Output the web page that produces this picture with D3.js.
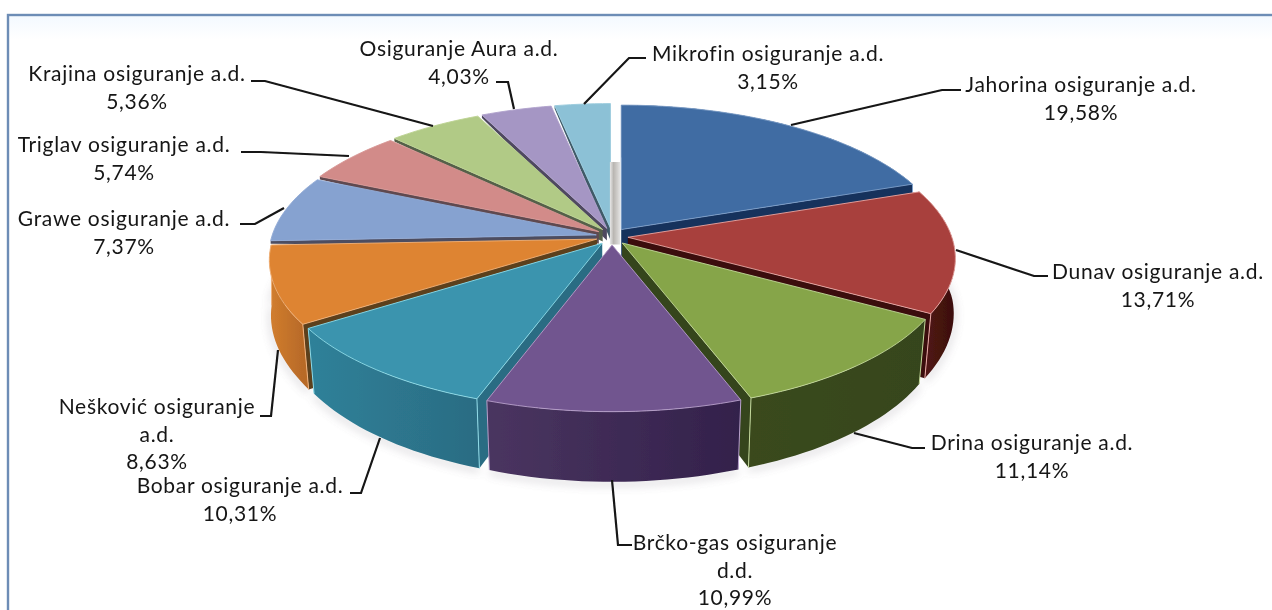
<!DOCTYPE html>
<html><head><meta charset="utf-8">
<script src="https://cdn.jsdelivr.net/npm/d3@7/dist/d3.min.js"></script>
<style>html,body{margin:0;padding:0;background:#fff;overflow:hidden}svg{display:block}</style>
</head><body><svg id="c" width="1272" height="610"></svg>
<script>
const companies = ["Jahorina osiguranje a.d.","Dunav osiguranje a.d.","Drina osiguranje a.d.","Brčko-gas osiguranje d.d.","Bobar osiguranje a.d.","Nešković osiguranje a.d.","Grawe osiguranje a.d.","Triglav osiguranje a.d.","Krajina osiguranje a.d.","Osiguranje Aura a.d.","Mikrofin osiguranje a.d."];
const shares = [19.58,13.71,11.14,10.99,10.31,8.63,7.37,5.74,5.36,4.03,3.15];
const shareLabels = ["19,58%","13,71%","11,14%","10,99%","10,31%","8,63%","7,37%","5,74%","5,36%","4,03%","3,15%"];
const topColors = ["#3f6ca3","#a83f3c","#86a548","#71548f","#3a94ae","#de8430","#86a2d0","#d28b89","#b1ca86","#a596c4","#8cc1d6"];
const wallLeft = ["#16305c","#561814","#3a4a1f","#4a3560","#2f8199","#d27e2e","#5f7ba6","#a86a68","#8aa165","#7f7099","#6d9aad"];
const wallRight = ["#16305c","#3a0f0e","#36451d","#33214b","#2b6c83","#b86a28","#5f7ba6","#a86a68","#8aa165","#7f7099","#6d9aad"];
const radialWalls = ["#16305c","#3a0f0e","#36451d","#33214b","#2b6c83","#5c3f1c","#4d4d60","#5e4a50","#55604a","#4f4a60","#3f5a68"];
const rimColors = ["#7f9fc8","#e9a9a6","#c3d89a","#b9a2cc","#8fdbe8","#f0b27c","#93abd6","#d79694","#bcd292","#b0a2cc","#9acbdd"];
const labelLines = [["Jahorina osiguranje a.d."],["Dunav osiguranje a.d."],["Drina osiguranje a.d."],["Brčko-gas osiguranje","d.d."],["Bobar osiguranje a.d."],["Nešković osiguranje","a.d."],["Grawe osiguranje a.d."],["Triglav osiguranje a.d."],["Krajina osiguranje a.d."],["Osiguranje Aura a.d."],["Mikrofin osiguranje a.d."]];

// layout
const cx=612, cy=236.5, rx=324, ry=142.5, persp=0.145, dz=60, exX=16, exY=8.5, lineGap=27.5;
const labelCenter=[[1081,92],[1158,279],[1032,450],[735,550],[240,493],[157,414],[124,226],[124,152],[137,81],[459,56],[768,61]];
const leaders=[[[791,125],[942,90],[961,90]],[[956,250],[1034,276],[1048,276]],[[854,433],[912,448],[925,448]],[[612,480],[618,545],[632,545]],[[380,438],[361,493],[350,493]],[[278,350],[271,416],[260,416]],[[284,208],[255,224],[240,224]],[[349,156],[261,152],[241,152]],[[433,126],[265,81],[251,81]],[[514,109],[508,82],[496,82]],[[584,104],[629,58],[646,58]]];

const svg=d3.select("#c");
const defs=svg.append("defs");
const bg=defs.append("linearGradient").attr("id","bg").attr("x1",0).attr("x2",0).attr("y1",0).attr("y2",1);
[[0,"#f3f9ff"],[0.04,"#ffffff"],[0.96,"#ffffff"],[0.965,"#fdfef9"],[1,"#fdfef9"]].forEach(s=>bg.append("stop").attr("offset",s[0]).attr("stop-color",s[1]));
defs.append("filter").attr("id","soft").append("feGaussianBlur").attr("stdDeviation",0.55);
defs.append("filter").attr("id","softT").append("feGaussianBlur").attr("stdDeviation",0.45);
defs.append("filter").attr("id","shadow").append("feGaussianBlur").attr("stdDeviation",4);
const grey=defs.append("linearGradient").attr("id","grey").attr("x1",0).attr("x2",1);
[[0,"#e8e8e8"],[0.35,"#b9b6b2"],[0.7,"#cfcdca"],[1,"#e4e4e4"]].forEach(s=>grey.append("stop").attr("offset",s[0]).attr("stop-color",s[1]));

svg.append("rect").attr("x",8).attr("y",15).attr("width",1290).attr("height",620).attr("fill","url(#bg)").attr("stroke","#6d8db6").attr("stroke-width",2.4);

const unitX=d3.scaleLinear().domain([-1,1]).range([-rx,rx]);
const unitY=d3.scaleLinear().domain([-1,1]).range([-ry,ry]);
const arcs=d3.pie().sort(null).value(d=>d).startAngle(0).endAngle(2*Math.PI)(shares);
const line=d3.line().x(d=>d[0]).y(d=>d[1]);

function project(t,r,off,low){
  const u=Math.sin(t)*r, v=-Math.cos(t)*r, w=1/(1-persp*v);
  let x=unitX(u)*w, y=unitY(v)*w;
  if(low){ x*=1-0.02*Math.min(1,Math.max(0,v)*2); y+=dz*w; }
  return [cx+off[0]+x, cy+off[1]+y];
}
function rimPts(a,off,low){
  const n=Math.max(4,Math.ceil((a.endAngle-a.startAngle)/0.03));
  return d3.range(n+1).map(i=>project(a.startAngle+(a.endAngle-a.startAngle)*i/n,1,off,low));
}
const slices=arcs.map((a,i)=>{
  const mid=(a.startAngle+a.endAngle)/2;
  return {a,i,mid,off:[Math.sin(mid)*exX,-Math.cos(mid)*exY]};
});
const order=slices.slice().sort((p,q)=>(-Math.cos(p.mid))-(-Math.cos(q.mid)));

const pie=svg.append("g").attr("filter","url(#soft)");
const front=slices.filter(s=>Math.cos(s.a.startAngle)<0.05||Math.cos(s.a.endAngle)<0.05);
pie.append("g").attr("filter","url(#shadow)").attr("opacity",0.3).selectAll("path").data(front).join("path")
  .attr("d",s=>line(rimPts(s.a,s.off,true).map(p=>[p[0],p[1]+2]))).attr("fill","none").attr("stroke","#8a8490").attr("stroke-width",5);

const mik=slices[10], jah=slices[0];
order.forEach(s=>{
  const g=pie.append("g");
  const {a,i,off}=s;
  const apexT=project(0,0,off,false), apexB=project(0,0,off,true);
  const top=rimPts(a,off,false), low=rimPts(a,off,true);
  const xs=top.map(p=>p[0]);
  const gid="w"+i;
  const lg=defs.append("linearGradient").attr("id",gid).attr("gradientUnits","userSpaceOnUse")
    .attr("x1",d3.min(xs)).attr("x2",d3.max(xs)).attr("y1",0).attr("y2",0);
  lg.append("stop").attr("offset",0).attr("stop-color",wallLeft[i]);
  lg.append("stop").attr("offset",1).attr("stop-color",wallRight[i]);
  if(i>=6){
    // far slices: only a dark seam shows along the lower straight edge, wider at the hub
    const e=top[0];
    g.append("path").attr("d",line([apexT,e,[e[0],e[1]+3],[apexT[0],apexT[1]+12]])+"Z").attr("fill",radialWalls[i]);
  } else {
    [[top[0],low[0]],[top[top.length-1],low[low.length-1]]].forEach(e=>{
      g.append("path").attr("d",line([apexT,e[0],e[1],apexB])+"Z").attr("fill",radialWalls[i]);
    });
    g.append("path").attr("d",line(top.concat(low.slice().reverse()))+"Z").attr("fill",`url(#${gid})`);
    if(Math.cos(a.startAngle)<0.4) g.append("path").attr("d",line([top[0],low[0]])).attr("stroke",rimColors[i]).attr("stroke-width",1).attr("fill","none");
    if(Math.cos(a.endAngle)<0.4) g.append("path").attr("d",line([top[top.length-1],low[low.length-1]])).attr("stroke",rimColors[i]).attr("stroke-width",1).attr("fill","none");
  }
  g.append("path").attr("d",line([apexT].concat(top))+"Z").attr("fill",topColors[i]).attr("stroke",rimColors[i]).attr("stroke-width",0.9).attr("stroke-linejoin","round");
});

// pale inner face seen through the gap at twelve o'clock
const gapL=project(0,0,mik.off,false)[0]-0.5, gapR=project(0,0,jah.off,false)[0]-1;
pie.append("rect").attr("x",gapL).attr("y",162).attr("width",gapR-gapL).attr("height",cy+8-162).attr("fill","url(#grey)");

svg.append("g").attr("filter","url(#softT)").selectAll("path").data(leaders).join("path")
  .attr("d",d=>line(d)).attr("fill","none").attr("stroke","#141414").attr("stroke-width",2.2);

const lab=svg.append("g").attr("filter","url(#softT)").attr("font-family","Lato, 'Open Sans', sans-serif").attr("font-size",21).attr("letter-spacing",0.7).attr("fill","#141414").attr("text-anchor","middle");
companies.forEach((c,i)=>{
  const lines=labelLines[i].concat([shareLabels[i]]);
  lines.forEach((t,k)=>lab.append("text").attr("x",labelCenter[i][0]).attr("y",labelCenter[i][1]+k*lineGap).text(t));
});
</script></body></html>
